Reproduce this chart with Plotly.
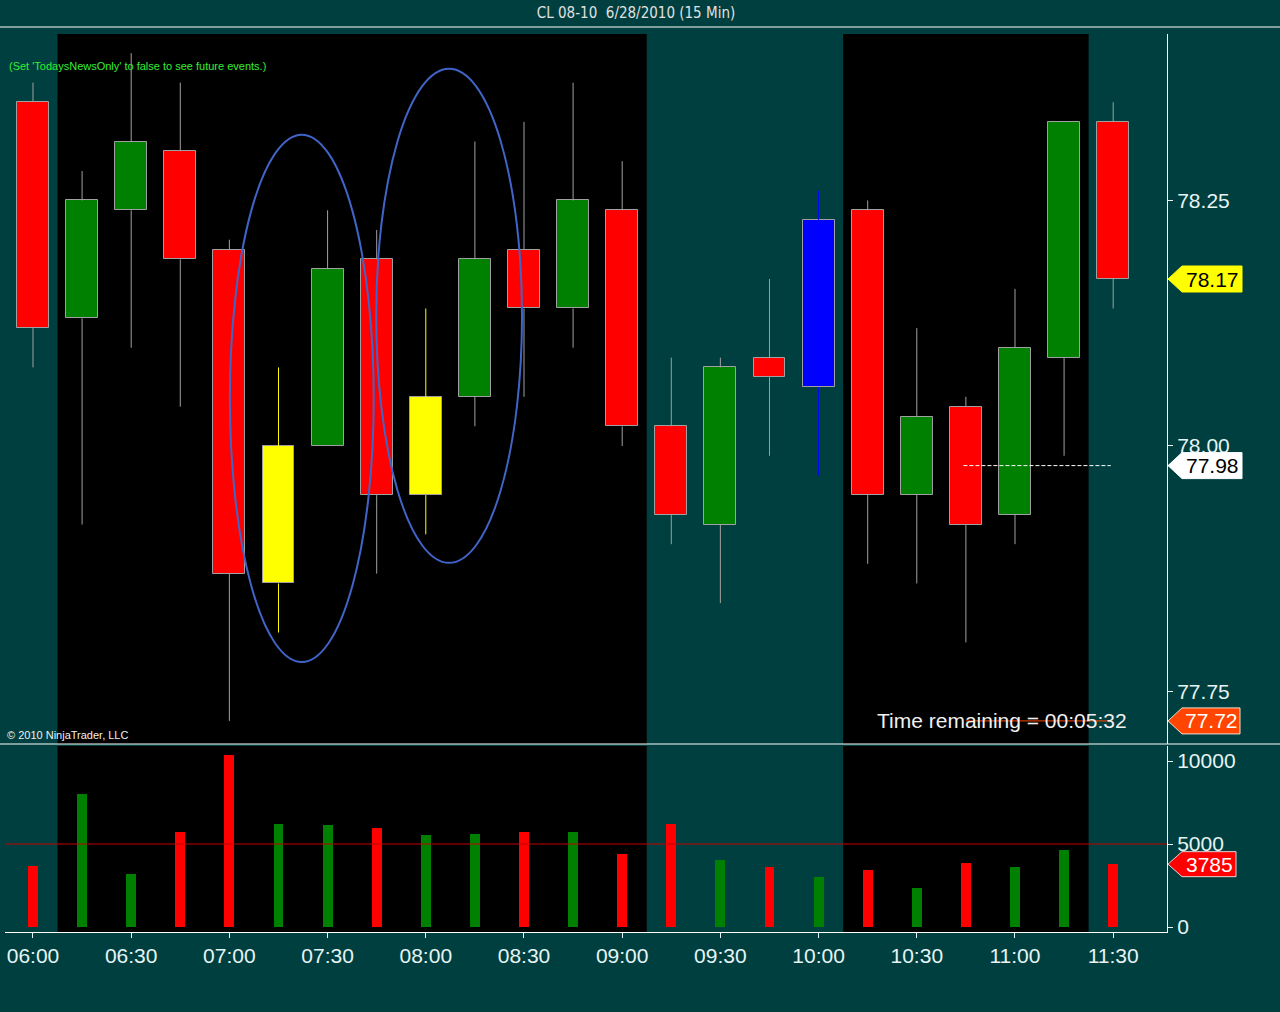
import plotly.graph_objects as go
from plotly.subplots import make_subplots

# ---------------- data ----------------
times = ["06:00", "06:15", "06:30", "06:45", "07:00", "07:15", "07:30", "07:45",
         "08:00", "08:15", "08:30", "08:45", "09:00", "09:15", "09:30", "09:45",
         "10:00", "10:15", "10:30", "10:45", "11:00", "11:15", "11:30"]
opens = [78.35, 78.13, 78.24, 78.30, 78.20, 77.86, 78.00, 78.19, 77.95, 78.05, 78.20, 78.14,
         78.24, 78.02, 77.92, 78.09, 78.06, 78.24, 77.95, 78.04, 77.93, 78.09, 78.33]
highs = [78.37, 78.28, 78.40, 78.37, 78.21, 78.08, 78.24, 78.22, 78.14, 78.31, 78.33, 78.37,
         78.29, 78.09, 78.09, 78.17, 78.26, 78.25, 78.12, 78.05, 78.16, 78.33, 78.35]
lows = [78.08, 77.92, 78.10, 78.04, 77.72, 77.81, 78.00, 77.87, 77.91, 78.02, 78.05, 78.10,
        78.00, 77.90, 77.84, 77.99, 77.97, 77.88, 77.86, 77.80, 77.90, 77.99, 78.14]
closes = [78.12, 78.25, 78.31, 78.19, 77.87, 78.00, 78.18, 77.95, 78.05, 78.19, 78.14, 78.25,
          78.02, 77.93, 78.08, 78.07, 78.23, 77.95, 78.03, 77.92, 78.10, 78.33, 78.17]
volumes = [3700, 8000, 3200, 5700, 10350, 6200, 6150, 5950, 5550, 5600, 5700, 5700,
           4400, 6200, 4050, 3600, 3000, 3450, 2350, 3850, 3600, 4650, 3785]
volume_ref_level = 5000
price_ticks = [77.75, 78.00, 78.25]
volume_ticks = [0, 5000, 10000]
highlight_bars = {5: "yellow", 8: "yellow", 16: "blue"}   # bar index -> highlight name
dark_sessions = [(1, 12), (17, 21)]                      # bar index ranges shaded black
ellipses = [  # (bar start, bar end, price low, price high)
    (4.01, 6.94, 77.78, 78.317),
    (6.99, 9.96, 77.881, 78.384),
]
marker_value_white = 77.98
marker_value_orange = 77.72
last_close = closes[-1]
last_volume = volumes[-1]
title_text = "CL 08-10  6/28/2010 (15 Min)"
news_text = "(Set 'TodaysNewsOnly' to false to see future events.)"
copyright_text = "\u00a9 2010 NinjaTrader, LLC"
timer_text = "Time remaining = 00:05:32"

# ---------------- styles ----------------
BG = "#003F3F"
TXT = "#E6F4F4"
FONT = "Liberation Sans, Arial, sans-serif"
COL = {"up": "#008000", "down": "#FF0000", "yellow": "#FFFF00", "blue": "#0000FF"}
WICK = {"up": "#A0A0A0", "down": "#A0A0A0", "yellow": "#FFFF00", "blue": "#0000FF"}

idx = list(range(len(times)))


def kind(i):
    if i in highlight_bars:
        return highlight_bars[i]
    return "up" if closes[i] > opens[i] else "down"


fig = make_subplots(rows=2, cols=1, shared_xaxes=True)

# wicks (upper and lower parts outside the bodies)
for k in ["up", "down", "yellow", "blue"]:
    wx, wy = [], []
    for i in idx:
        if kind(i) == k:
            top, bot = max(opens[i], closes[i]), min(opens[i], closes[i])
            if highs[i] > top:
                wx += [i, i, None]
                wy += [highs[i], top, None]
            if lows[i] < bot:
                wx += [i, i, None]
                wy += [bot, lows[i], None]
    if wx:
        fig.add_trace(go.Scatter(x=wx, y=wy, mode="lines",
                                 line=dict(color=WICK[k], width=1),
                                 hoverinfo="skip", showlegend=False), row=1, col=1)

# bodies
fig.add_trace(go.Bar(
    x=idx,
    base=[min(o, c) for o, c in zip(opens, closes)],
    y=[abs(c - o) for o, c in zip(opens, closes)],
    width=0.65,
    marker=dict(color=[COL[kind(i)] for i in idx], line=dict(color="#A0A0A0", width=1)),
    showlegend=False, hoverinfo="skip"), row=1, col=1)

# volume
fig.add_trace(go.Bar(
    x=idx, y=volumes, width=0.2,
    marker=dict(color=["#008000" if closes[i] > opens[i] else "#FF0000" for i in idx], line_width=0),
    showlegend=False, hoverinfo="skip"), row=2, col=1)

# ---------------- layout geometry ----------------
W, H = 1280, 1012
ml, mr, mt, mb = 5, 113, 34, 80
ph = H - mt - mb
pw = W - ml - mr


def py(y_px):  # pixel y -> paper y
    return (H - mb - y_px) / ph


def px(x_px):  # pixel x -> paper x
    return (x_px - ml) / pw


xr = [-0.57, 23.096]
fig.update_xaxes(range=xr, showgrid=False, zeroline=False, fixedrange=True)
fig.update_xaxes(showticklabels=False, ticks="", row=1, col=1)
fig.update_xaxes(tickmode="array", tickvals=idx[::2], ticktext=times[::2],
                 ticks="outside", ticklen=5, tickcolor=TXT, showline=True,
                 linecolor="#FFFFFF", linewidth=1,
                 tickfont=dict(family=FONT, size=21, color=TXT), row=2, col=1)

fig.update_yaxes(side="right", showgrid=False, zeroline=False, showline=True,
                 linecolor="#FFFFFF", linewidth=1, ticks="outside", ticklen=5,
                 tickcolor=TXT, tickfont=dict(family=FONT, size=21, color=TXT))
fig.update_yaxes(range=[77.6965, 78.4195], tickvals=price_ticks, tickformat=".2f",
                 domain=[py(744), 1], row=1, col=1)
fig.update_yaxes(range=[-301, 10904], tickvals=volume_ticks, tickformat="d",
                 domain=[0, py(746)], row=2, col=1)

shapes = []
for a, b in dark_sessions:
    for yr in ["y domain", "y2 domain"]:
        shapes.append(dict(type="rect", xref="x", yref=yr, x0=a - 0.5, x1=b + 0.5,
                           y0=0, y1=1, fillcolor="#000000", line_width=0, layer="below"))

for x0, x1, y0, y1 in ellipses:
    shapes.append(dict(type="circle", xref="x", yref="y", x0=x0, x1=x1, y0=y0, y1=y1,
                       line=dict(color="#4064C8", width=2), layer="above"))

# volume reference line
shapes.append(dict(type="line", xref="x domain", yref="y2", x0=0, x1=1,
                   y0=volume_ref_level, y1=volume_ref_level,
                   line=dict(color="#C00000", width=1)))
# dashed white line and orange line near last bars
shapes.append(dict(type="line", xref="x", yref="y", x0=18.95, x1=21.95,
                   y0=marker_value_white, y1=marker_value_white,
                   line=dict(color="#FFFFFF", width=1, dash="4px,2px")))
shapes.append(dict(type="line", xref="x", yref="y", x0=19.0, x1=21.95,
                   y0=marker_value_orange, y1=marker_value_orange,
                   line=dict(color="#FF4500", width=1)))

# panel separators
shapes.append(dict(type="line", xref="paper", yref="paper", x0=px(0), x1=px(W),
                   y0=py(744), y1=py(744), line=dict(color="#FFFFFF", width=1)))
shapes.append(dict(type="line", xref="paper", yref="paper", x0=px(0), x1=px(W),
                   y0=py(27), y1=py(27), line=dict(color="#FFFFFF", width=1)))

annotations = []


def price_flag(value, yref, fill, textcol, border, text, right=75, half=13):
    shapes.append(dict(type="path", xref="paper", yref=yref, xsizemode="pixel",
                       ysizemode="pixel", xanchor=1, yanchor=value,
                       path=f"M 1 0 L 15 {half} L {right} {half} L {right} {-half} L 15 {-half} Z",
                       fillcolor=fill, line=dict(color=border, width=1), layer="above"))
    annotations.append(dict(xref="paper", yref=yref, x=1, y=value, xanchor="center",
                            yanchor="middle", xshift=(15 + right) / 2, showarrow=False,
                            text=text, font=dict(family=FONT, size=21, color=textcol)))


price_flag(last_close, "y", "#FFFF00", "#000000", "#FFFF00", f"{last_close:.2f}")
price_flag(marker_value_white, "y", "#FFFFFF", "#000000", "#FFFFFF", f"{marker_value_white:.2f}")
price_flag(marker_value_orange, "y", "#FF4500", "#FFFFFF", "#F0E0D0", f"{marker_value_orange:.2f}", right=73)
price_flag(last_volume, "y2", "#FF0000", "#FFFFFF", "#F0D0D0", f"{last_volume}", right=69, half=12.5)

annotations.append(dict(xref="paper", yref="paper", x=px(7), y=py(66), xanchor="left",
                        yanchor="middle", showarrow=False, text=news_text,
                        font=dict(family=FONT, size=11, color="#33EE33")))
annotations.append(dict(xref="paper", yref="paper", x=px(5), y=py(735), xanchor="left",
                        yanchor="middle", showarrow=False, text=copyright_text,
                        font=dict(family=FONT, size=11, color="#F0F0F0")))
annotations.append(dict(xref="paper", yref="paper", x=px(1129), y=py(720), xanchor="right",
                        yanchor="middle", showarrow=False, text=timer_text,
                        font=dict(family=FONT, size=21, color="#F0F0F0")))

fig.update_layout(
    width=W, height=H,
    margin=dict(l=ml, r=mr, t=mt, b=mb),
    paper_bgcolor=BG, plot_bgcolor=BG,
    bargap=0, barmode="overlay",
    showlegend=False,
    shapes=shapes, annotations=annotations,
    title=dict(text=title_text, x=636 / W, xref="container", xanchor="center",
               y=1 - 13 / H, yref="container", yanchor="middle",
               font=dict(family="Liberation Sans Narrow, Arial Narrow, DejaVu Sans Condensed, sans-serif",
                         size=15, color="#E0E0E0")),
)

fig.write_html("out.html", config={"displayModeBar": False},
               post_script="document.body.style.margin='0';document.body.style.overflow='hidden';")
